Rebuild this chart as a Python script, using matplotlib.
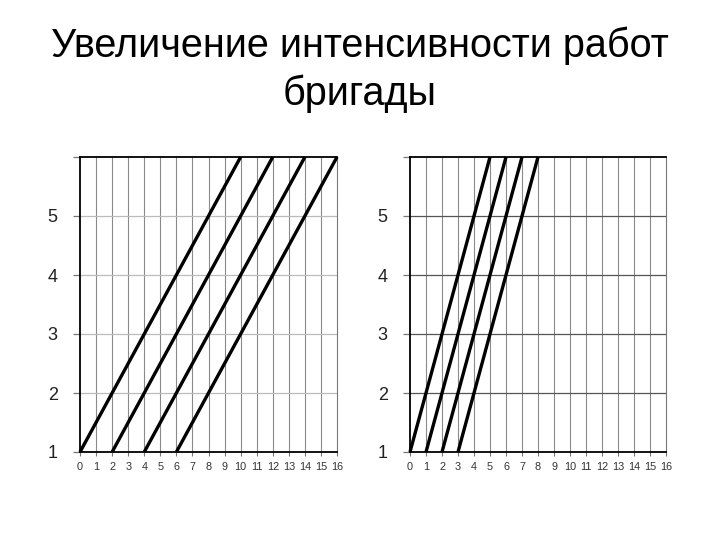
import matplotlib
matplotlib.use("Agg")
import matplotlib.pyplot as plt

# Data
title_lines = ["Увеличение интенсивности работ", "бригады"]
x_ticks = list(range(0, 17))
y_ticks = [1, 2, 3, 4, 5, 6]
y_ticklabels = ["1", "2", "3", "4", "5", ""]
y_bottom = 1
y_top = 6
left_start = [0, 2, 4, 6]
left_end = [10, 12, 14, 16]
right_start = [0, 1, 2, 3]
right_end = [5, 6, 7, 8]

plt.rcParams['font.family'] = ['Liberation Sans', 'DejaVu Sans']

W, H = 720, 540
fig = plt.figure(figsize=(7.2, 5.4), dpi=100)
fig.patch.set_facecolor("white")

fig.text(0.5, 1 - 57 / H, title_lines[0], ha="center", va="baseline",
         fontsize=28.5, color="black")
fig.text(0.5, 1 - 105 / H, title_lines[1], ha="center", va="baseline",
         fontsize=28.5, color="black")

def panel(rect, starts, ends, hgrid_color):
    ax = fig.add_axes(rect)
    ax.set_xlim(0, 16)
    ax.set_ylim(y_bottom, y_top)
    for xv in x_ticks[1:-1]:
        ax.axvline(xv, color="#8a8a8a", lw=0.8, zorder=1)
    for yv in y_ticks[1:-1]:
        ax.axhline(yv, color=hgrid_color, lw=0.9, zorder=1)
    for s, e in zip(starts, ends):
        ax.plot([s, e], [y_bottom, y_top], color="black", lw=2.4,
                solid_capstyle="butt", zorder=3, clip_on=False)
    ax.set_xticks(x_ticks)
    ax.set_xticklabels([str(v) for v in x_ticks], fontsize=7.8, color="#333333")
    ax.set_yticks(y_ticks)
    ax.set_yticklabels(y_ticklabels, fontsize=13, color="#222222")
    ax.tick_params(axis="y", length=5, width=0.9, color="#777777", pad=11)
    ax.tick_params(axis="x", length=3, width=0.8, color="#777777", pad=4)
    for side in ("left", "top", "bottom"):
        ax.spines[side].set_color("black")
        ax.spines[side].set_linewidth(1.3)
    ax.spines["right"].set_color("#777777")
    ax.spines["right"].set_linewidth(0.8)
    return ax

panel([80 / W, 1 - 452 / H, 257 / W, 295 / H], left_start, left_end, "#bbbbbb")
panel([410 / W, 1 - 452 / H, 256 / W, 295 / H], right_start, right_end, "#555555")

fig.savefig("out.png", dpi=100, facecolor="white")
